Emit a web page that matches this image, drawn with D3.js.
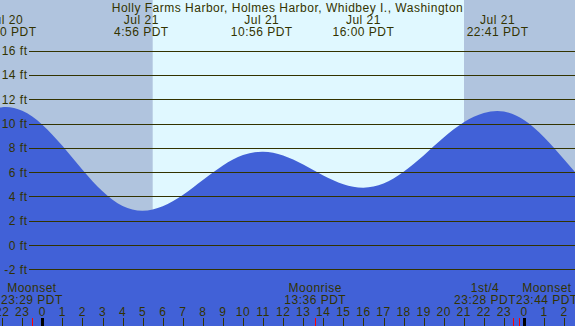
<!DOCTYPE html>
<html><head><meta charset="utf-8">
<script src="https://cdn.jsdelivr.net/npm/d3@7"></script>
<style>
html,body{margin:0;padding:0;background:#fff;}
svg{display:block;}
text{font-family:"Liberation Sans",Arial,sans-serif;font-size:12px;fill:#333300;letter-spacing:0.5px;}
</style></head>
<body>
<script>
// ---- data (hours relative to Jul 21 00:00 PDT) ----
const title = "Holly Farms Harbor, Holmes Harbor, Whidbey I., Washington";
const hours  = [-3,-2,-1,0,1,2,3,4,5,6,7,8,9,10,11,12,13,14,15,16,17,18,19,20,21,22,23,24,25,26,27];
const tideFt = [10.81,11.34,11.04,9.90,8.16,6.20,4.42,3.21,2.82,3.19,4.11,5.34,6.54,7.40,7.68,7.37,6.62,5.72,5.00,4.72,5.06,6.02,7.37,8.84,10.10,10.87,10.99,10.29,8.87,7.04,5.14];
const tideTimes  = [-1.83, 4.933, 10.933, 16.0, 22.683];
const tideDates  = ["Jul 20","Jul 21","Jul 21","Jul 21","Jul 21"];
const tideLabels = ["22:10 PDT","4:56 PDT","10:56 PDT","16:00 PDT","22:41 PDT"];
const sunrise = 5.50, sunset = 21.01;
const moonTimes  = [-0.517, 13.6, 23.467, 23.733];
const moonNames  = ["Moonset","Moonrise","1st/4","Moonset"];
const moonLabels = ["23:29 PDT","13:36 PDT","23:28 PDT","23:44 PDT"];
const yTicks = [-2,0,2,4,6,8,10,12,14,16];
const hourTicks = d3.range(-2, 27);

const W = 575, H = 326;
const x = d3.scaleLinear().domain([0, 24]).range([42.3, 524.0]);
const y = d3.scaleLinear().domain([0, 16]).range([245, 50.6]);

const svg = d3.select("body").append("svg").attr("width", W).attr("height", H);

// sky: night / day / night
const night = "#b0c4de", day = "#e0f8ff";
svg.append("rect").attr("x",0).attr("y",0).attr("width",W).attr("height",H).attr("fill",night);
svg.append("rect").attr("x",x(sunrise)).attr("y",0).attr("width",x(sunset)-x(sunrise)).attr("height",H).attr("fill",day);

// tide area
const area = d3.area().x((d,i)=>x(hours[i])).y0(H).y1(d=>y(d)).curve(d3.curveNatural);
svg.append("path").datum(tideFt).attr("d", area).attr("fill", "#4161d7");

// gridlines
svg.append("g").selectAll("line").data(yTicks).join("line")
  .attr("x1", 29).attr("x2", W)
  .attr("y1", d=>Math.round(y(d))+0.5).attr("y2", d=>Math.round(y(d))+0.5)
  .attr("stroke", "#333300").attr("stroke-width", 1);
svg.append("g").selectAll("text").data(yTicks).join("text")
  .attr("x", 27.5).attr("y", d=>y(d)+4.5).attr("text-anchor","end")
  .text(d=>d+" ft");

// title
svg.append("text").attr("x", W/2).attr("y", 11.5).attr("text-anchor","middle").text(title);

// tide extreme labels
const tl = svg.append("g").selectAll("g").data(tideTimes).join("g");
tl.append("text").attr("x", d=>x(d)).attr("y", 24).attr("text-anchor","middle").text((d,i)=>tideDates[i]);
tl.append("text").attr("x", d=>x(d)).attr("y", 36).attr("text-anchor","middle").text((d,i)=>tideLabels[i]);

// hour labels and ticks
svg.append("g").selectAll("text").data(hourTicks).join("text")
  .attr("x", d=>x(d)).attr("y", 316).attr("text-anchor","middle")
  .text(d=>((d%24)+24)%24);
svg.append("g").selectAll("line").data(hourTicks).join("line")
  .attr("x1", d=>Math.round(x(d))+0.5).attr("x2", d=>Math.round(x(d))+0.5)
  .attr("y1", 318).attr("y2", H)
  .attr("stroke", d=>(d%24===0)?"#000":"#333300")
  .attr("stroke-width", d=>(d%24===0)?3:1);

// moon events
svg.append("g").selectAll("line").data(moonTimes).join("line")
  .attr("x1", d=>Math.round(x(d))+0.5).attr("x2", d=>Math.round(x(d))+0.5)
  .attr("y1", 318).attr("y2", H).attr("stroke", "#ff0000").attr("stroke-width", 1);

const mg = svg.append("g");
const moonG = mg.selectAll("g").data(moonTimes).join("g");
const t1 = moonG.append("text").attr("y", 292).attr("text-anchor","middle").text((d,i)=>moonNames[i]);
const t2 = moonG.append("text").attr("y", 304).attr("text-anchor","middle").text((d,i)=>moonLabels[i]);
// layout: centers at event time, nudged apart where they overlap
const widths = moonTimes.map((d,i)=>Math.max(t1.nodes()[i].getComputedTextLength(), t2.nodes()[i].getComputedTextLength()));
const centers = moonTimes.map(d=>x(d));
for (let i=1;i<centers.length;i++){
  const need = (widths[i-1]+widths[i])/2;
  if (centers[i]-centers[i-1] < need){
    const mid = (centers[i]+centers[i-1])/2;
    centers[i-1] = mid - need/2; centers[i] = mid + need/2;
  }
}
t1.attr("x", (d,i)=>centers[i]);
t2.attr("x", (d,i)=>centers[i]);
</script>
</body></html>
